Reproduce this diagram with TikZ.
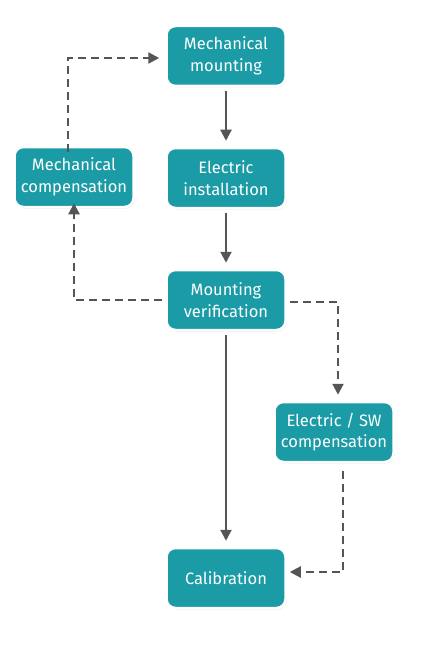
\documentclass[tikz,border=0pt]{standalone}
\usepackage{fontspec}
\setmainfont{Fira Sans}
\usetikzlibrary{shadows,arrows.meta}
\definecolor{teal1}{HTML}{1A9BA6}
\definecolor{arr}{HTML}{555555}
\tikzset{
  box/.style={draw=white, line width=2.5pt, fill=teal1, rounded corners=9pt,
    minimum width=119pt, minimum height=60pt, text=white, align=center,
    font=\fontsize{16.5}{21.5}\selectfont, inner sep=2pt,
    drop shadow={opacity=0.18, shadow xshift=1pt, shadow yshift=-1.5pt}},
  solidarr/.style={draw=arr, line width=2.2pt, -{Triangle[length=11pt,width=11pt]}},
  dasharr/.style={solidarr, dash pattern=on 8pt off 5pt},
}
\begin{document}
\begin{tikzpicture}[x=1pt,y=-1pt]
\useasboundingbox (0,0) rectangle (428,658);
\node[box] (mm) at (226,56) {Mechanical\\mounting};
\node[box] (mc) at (74,177) {Mechanical\\compensation};
\node[box] (ei) at (226,178) {Electric\\installation};
\node[box] (mv) at (226,300) {Mounting\\verification};
\node[box] (esw) at (334,432) {Electric / SW\\compensation};
\node[box] (cal) at (226,578) {Calibration};
\coordinate (c1) at (68,58);
\coordinate (c2) at (74,300);
\coordinate (c3) at (338,302);
\coordinate (c4) at (343,572);
\draw[solidarr] ([yshift=-4pt]mm.south) -- ([yshift=6pt]ei.north);
\draw[solidarr] ([yshift=-4pt]ei.south) -- ([yshift=6pt]mv.north);
\draw[solidarr] ([yshift=-4pt]mv.south) -- ([yshift=6pt]cal.north);
\draw[dasharr] ([xshift=-3pt]mv.west |- c2) -- (c2) -- ([yshift=5pt]mc.south);
\draw[dasharr] ([yshift=-6pt]c1 |- mc.north) -- (c1) -- ([xshift=-6pt]mm.west |- c1);
\draw[dasharr] ([xshift=3pt]mv.east |- c3) -- (c3) -- ([yshift=6pt]esw.north -| c3);
\draw[dasharr] ([yshift=-8pt]esw.south -| c4) -- (c4) -- ([xshift=3pt]cal.east |- c4);
\end{tikzpicture}
\end{document}
